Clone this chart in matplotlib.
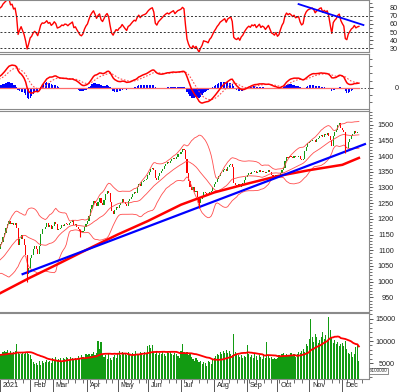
import numpy as np
import pandas as pd
import matplotlib
matplotlib.use('Agg')
import matplotlib.pyplot as plt
import matplotlib.transforms as mtransforms
from matplotlib.ticker import MultipleLocator, FixedLocator

plt.rcParams['font.family'] = ['Liberation Sans', 'DejaVu Sans']

# daily closes (Dec 2020 is only there to warm up the indicators)
close_dec20 = [1020, 1018, 1025, 1033, 1040, 1045, 1050, 1046, 1058, 1060, 1047, 1053,
               1065, 1067, 1067, 1070, 1058, 1075, 1082, 1085, 1092, 1098, 1104]
close_jan = [1120, 1125, 1143, 1156, 1172, 1184, 1192, 1183, 1188, 1180, 1186, 1170,
             1118, 1135, 1150, 1135, 1118, 1085, 1023, 1045]
close_feb = [1075, 1084, 1103, 1112, 1103, 1087, 1114, 1152, 1169, 1167, 1174, 1186,
             1175, 1180, 1168]
close_mar = [1176, 1190, 1183, 1165, 1168, 1172, 1180, 1178, 1185, 1184, 1180, 1186,
             1190, 1195, 1180, 1183, 1175, 1168, 1160, 1157, 1162, 1175, 1185]
close_apr = [1192, 1210, 1230, 1245, 1258, 1250, 1240, 1255, 1265, 1250, 1245, 1260,
             1278, 1290, 1282, 1255, 1225, 1215, 1228, 1239]
close_may = [1235, 1245, 1250, 1262, 1255, 1248, 1242, 1258, 1262, 1270, 1278, 1285,
             1283, 1300, 1312, 1306, 1316, 1320, 1323, 1328]
close_jun = [1340, 1350, 1358, 1363, 1355, 1330, 1325, 1338, 1345, 1352, 1360, 1368,
             1375, 1380, 1378, 1385, 1390, 1395, 1390, 1398, 1405, 1408]
close_jul = [1412, 1422, 1420, 1390, 1345, 1320, 1300, 1292, 1300, 1285, 1290, 1270,
             1250, 1262, 1270, 1285, 1282, 1280, 1275, 1285, 1290, 1300]
close_aug = [1310, 1318, 1328, 1335, 1345, 1350, 1355, 1360, 1352, 1365, 1370, 1375,
             1365, 1315, 1308, 1305, 1310, 1300, 1310, 1315, 1325, 1333]
close_sep = [1340, 1345, 1342, 1350, 1348, 1352, 1345, 1350, 1355, 1348, 1352, 1350,
             1345, 1350, 1355, 1348, 1340, 1338, 1335, 1340]
close_oct = [1332, 1335, 1345, 1355, 1362, 1385, 1398, 1395, 1400, 1398, 1395, 1400,
             1396, 1398, 1400, 1392, 1387, 1390, 1415, 1430, 1440]
close_nov = [1445, 1448, 1452, 1450, 1445, 1453, 1458, 1465, 1468, 1462, 1470, 1468,
             1472, 1465, 1450, 1432, 1465, 1475, 1482, 1498, 1505, 1490]
close_dec = [1482, 1475, 1430, 1425, 1445, 1455, 1465, 1470, 1480, 1472, 1476, 1478]

# volume in units of 100000 shares
vol_dec20 = [5500, 6000, 6200, 5800, 6500, 7000, 6800, 7200, 6000, 6500, 7500, 7000,
             6800, 7200, 6500, 7000, 7500, 6800, 7200, 7000, 6500, 6800, 7000]
vol_jan = [7000, 7200, 7500, 7800, 7600, 7900, 7400, 7700, 7300, 7600, 7800, 9300,
           7500, 7200, 7000, 7400, 7100, 7300, 7600, 7000]
vol_feb = [6800, 6000, 5200, 4800, 5000, 4600, 5500, 4700, 5600, 5000, 5300, 5800,
           5200, 5600, 5000]
vol_mar = [6200, 5800, 6400, 5700, 6000, 6300, 5600, 6100, 5900, 6400, 6200, 5800,
           6500, 6100, 5900, 6300, 6000, 6600, 6200, 6800, 6400, 6000, 7200]
vol_apr = [6800, 7000, 6600, 7200, 7500, 6900, 7300, 10000, 8200, 9700, 7200, 6500,
           6800, 6000, 7000, 6200, 5800, 6500, 6900, 6300]
vol_may = [7200, 7800, 6900, 7500, 7000, 7300, 6800, 7600, 7100, 6700, 7400, 7000,
           7700, 7200, 6800, 7500, 7300, 6900, 7600, 7100]
vol_jun = [8800, 9000, 8400, 9100, 7600, 7200, 7800, 6800, 7400, 7000, 7600, 7200,
           6600, 7500, 7300, 7700, 7100, 6900, 7400, 7000, 6600, 6200]
vol_jul = [7800, 9300, 7500, 7000, 7600, 6800, 7200, 6500, 6000, 5600, 6200, 5800,
           5200, 5600, 4800, 5400, 5000, 4400, 5600, 5200, 4800, 5800]
vol_aug = [6200, 6600, 7000, 6800, 7500, 7200, 7800, 7400, 8000, 7300, 7700, 7100,
           6900, 11600, 7600, 7200, 6800, 6500, 6900, 6300, 6700, 6400]
vol_sep = [9000, 7200, 6500, 6800, 6200, 7000, 6600, 5800, 6900, 6400, 6000, 7100,
           6300, 9700, 6700, 6100, 6500, 5900, 6300, 6000]
vol_oct = [6300, 6800, 6500, 7000, 7300, 6700, 7100, 6600, 6900, 7400, 6800, 7200,
           6500, 7000, 7500, 7300, 7800, 8200, 7600, 9300, 8800]
vol_nov = [10500, 15000, 11000, 9800, 11500, 10800, 9500, 10200, 11000, 12000, 10500,
           11300, 9800, 15300, 12500, 10800, 9600, 10200, 9300, 9800, 8900, 9400]
vol_dec = [9500, 8800, 10000, 8200, 7400, 7000, 7600, 6500, 7200, 8600, 9000, 5500]

holidays = ['2021-01-01', '2021-02-10', '2021-02-11', '2021-02-12', '2021-02-15',
            '2021-02-16', '2021-04-21', '2021-04-30', '2021-05-03', '2021-09-02',
            '2021-09-03']

# long moving average (thick red), read at a few dates
ma_dates = ['2021-01-04', '2021-02-01', '2021-03-01', '2021-04-01', '2021-05-04',
            '2021-06-01', '2021-07-01', '2021-08-02', '2021-09-01', '2021-10-01',
            '2021-11-01', '2021-12-01', '2021-12-16']
ma_values = [963, 1013, 1048, 1103, 1150, 1193, 1245, 1284, 1312, 1336, 1355, 1372, 1394]

trend_dates = ['2021-01-25', '2021-12-22']
trend_values = [1024, 1438]
rsi_trend_dates = ['2021-10-21', '2021-12-21']
rsi_trend_values = [84, 58.5]

wick_lows = {'2021-01-28': 1000, '2021-03-25': 1142, '2021-07-19': 1234,
             '2021-12-03': 1409}

month_labels = ['2021', 'Feb', 'Mar', 'Apr', 'May', 'Jun', 'Jul', 'Aug', 'Sep',
                'Oct', 'Nov', 'Dec']

RED = '#ff0000'
GREEN = '#129b12'
BLUE = '#0000ff'
SPINE = '#8a8a8a'

days = pd.bdate_range('2020-12-01', '2021-12-31')
days = days[~days.isin(pd.to_datetime(holidays))]

close = pd.Series(np.concatenate([close_dec20, close_jan, close_feb, close_mar, close_apr,
                                  close_may, close_jun, close_jul, close_aug, close_sep,
                                  close_oct, close_nov, close_dec]), dtype=float)
volume = pd.Series(np.concatenate([vol_dec20, vol_jan, vol_feb, vol_mar, vol_apr, vol_may,
                                   vol_jun, vol_jul, vol_aug, vol_sep, vol_oct, vol_nov,
                                   vol_dec]), dtype=float)
n = len(close)
assert len(volume) == n, (len(volume), n)
assert days[n - 1] == pd.Timestamp('2021-12-16'), days[n - 1]
trading = days[:n]
pos = np.arange(n)


def x_of(dates):
    return days.get_indexer(pd.to_datetime(dates))


# indicators
mid = close.rolling(20).mean()
sd = close.rolling(20).std(ddof=0)
upper = mid + 2 * sd
lower = mid - 2 * sd

delta = close.diff()
gain = delta.clip(lower=0).ewm(alpha=1 / 14, adjust=False).mean()
loss = (-delta.clip(upper=0)).ewm(alpha=1 / 14, adjust=False).mean()
rsi = 100 - 100 / (1 + gain / loss)

macd = close.ewm(span=12, adjust=False).mean() - close.ewm(span=26, adjust=False).mean()
signal = macd.ewm(span=9, adjust=False).mean()
hist = macd - signal

vol_ma = volume.rolling(20).mean()

opens = close.shift(1).fillna(close.iloc[0])
up = (close >= opens).values

# layout in pixels of the 400x392 picture
W, H = 400, 392
fig = plt.figure(figsize=(W / 100, H / 100), dpi=100)


def box(top, bottom):
    return [0, 1 - bottom / H, 369 / W, (bottom - top) / H]


ax_rsi = fig.add_axes(box(0, 51.7))
ax_macd = fig.add_axes(box(53.5, 109.3), sharex=ax_rsi)
ax_p = fig.add_axes(box(110.5, 311.5), sharex=ax_rsi)
ax_v = fig.add_axes(box(312.5, 378.5), sharex=ax_rsi)
ax_rsi.set_xlim(27.4, 267.7)

# RSI
ax_rsi.plot(pos, rsi, color=RED, lw=1.0)
for lev in (30, 50, 70):
    ax_rsi.axhline(lev, color='#333333', lw=0.7, ls=(0, (2, 2)))
ax_rsi.plot(x_of(rsi_trend_dates), rsi_trend_values, color=BLUE, lw=1.3)
ax_rsi.set_ylim(26, 89)
ax_rsi.set_yticks(range(30, 81, 10))
ax_rsi.yaxis.set_minor_locator(MultipleLocator(5))

# MACD
ax_macd.axhline(0, color='#444444', lw=0.7, ls=(0, (1.5, 2)))
ax_macd.plot(pos, np.zeros(n), color='#ff6b6b', lw=0.9)
ax_macd.bar(pos, hist, width=0.8, color=BLUE, linewidth=0)
ax_macd.plot(pos, signal, color='#ff5050', lw=0.8, ls=(0, (1.5, 1.5)))
ax_macd.plot(pos, macd, color=RED, lw=1.1)
vis = pos >= 27
lo = macd[vis].min() / 0.71
hi = -lo * 0.616 / 0.384
ax_macd.set_ylim(lo, hi)
ax_macd.set_yticks([0])
ax_macd.yaxis.set_minor_locator(MultipleLocator((hi - lo) * 7.3 / 55.8))

# price
ax_p.plot(pos, upper, color='#ff4d4d', lw=0.6)
ax_p.plot(pos, mid, color='#ff4d4d', lw=0.6)
ax_p.plot(pos, lower, color='#ff4d4d', lw=0.6)
ax_p.plot(x_of(ma_dates), ma_values, color=RED, lw=1.8)
ax_p.plot(x_of(trend_dates), trend_values, color=BLUE, lw=1.6)
for d, low in wick_lows.items():
    i = days.get_loc(pd.Timestamp(d))
    ax_p.vlines(i, low, max(opens[i], close[i]), color=GREEN if up[i] else RED, lw=0.8)
body_lo = np.minimum(opens, close)
body_h = np.maximum(np.abs(close - opens), 1.5)
ax_p.bar(pos, body_h, bottom=body_lo, width=0.75,
         color=np.where(up, GREEN, RED), linewidth=0)
ax_p.set_ylim(905, 1545)
ax_p.set_yticks(range(950, 1501, 50))
ax_p.yaxis.set_minor_locator(MultipleLocator(10))

# volume
ax_v.bar(pos, volume, width=0.75, color=GREEN, linewidth=0)
ax_v.plot(pos, vol_ma, color=RED, lw=1.3)
ax_v.set_ylim(1600, 16400)
ax_v.set_yticks([5000, 10000, 15000])
ax_v.yaxis.set_minor_locator(MultipleLocator(1000))

month_pos = [i for i in range(1, n) if trading[i].month != trading[i - 1].month]
week_pos = [i for i in range(1, len(days)) if days[i].weekday() < days[i - 1].weekday()]
ax_v.set_xticks(month_pos, month_labels)
ax_v.xaxis.set_minor_locator(FixedLocator(week_pos))

pads = {ax_rsi: 18, ax_macd: 18.5, ax_p: 15, ax_v: 15.8}
for ax, pad in pads.items():
    for side, sp in ax.spines.items():
        sp.set_color(SPINE)
        sp.set_linewidth(0.8)
    ax.spines['left'].set_visible(False)
    ax.yaxis.tick_right()
    ax.tick_params(axis='y', which='major', length=3, width=0.7, color='#555555',
                   labelsize=5.2, labelcolor='#222222', pad=pad)
    ax.tick_params(axis='y', which='minor', length=2, width=0.6, color='#555555')
    plt.setp(ax.get_yticklabels(), ha='right')
    if ax is not ax_v:
        ax.tick_params(axis='x', which='both', bottom=False, labelbottom=False)

ax_v.tick_params(axis='x', which='major', length=9, width=0.7, color='#555555',
                 labelsize=5.2, labelcolor='#222222', pad=-6.5)
ax_v.tick_params(axis='x', which='minor', length=3, width=0.6, color='#555555')
shift = mtransforms.ScaledTranslation(2 / 72, 0, fig.dpi_scale_trans)
for lab in ax_v.get_xticklabels():
    lab.set_ha('left')
    lab.set_transform(lab.get_transform() + shift)

fig.text(370 / W, 1 - 371 / H, 'x100000', fontsize=3.4, color='#333333', va='center',
         bbox=dict(boxstyle='square,pad=0.12', fc='white', ec='#777777', lw=0.6))

fig.savefig('out.png', dpi=100)
